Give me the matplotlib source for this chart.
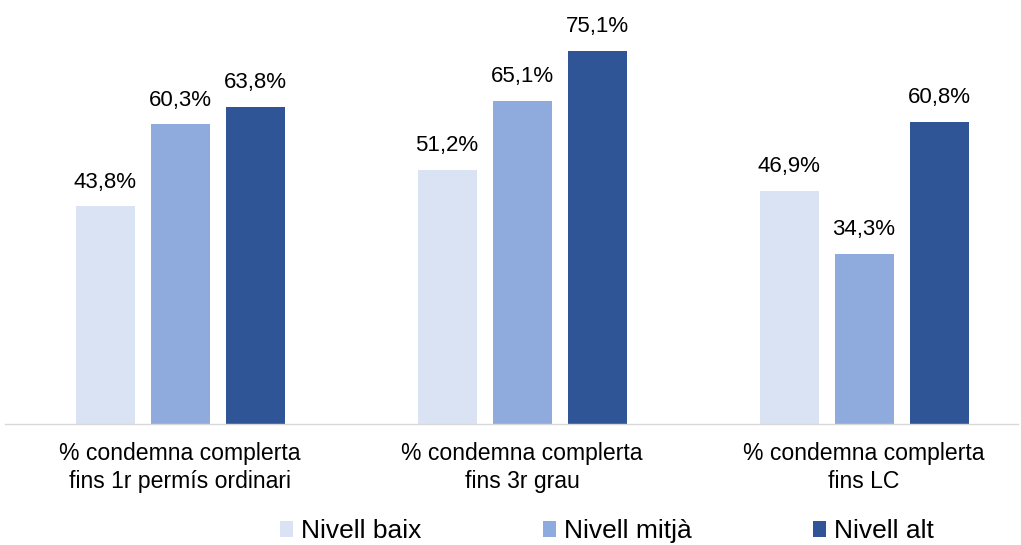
import matplotlib
matplotlib.use("Agg")
import matplotlib.pyplot as plt
import numpy as np
from matplotlib.patches import Patch

plt.rcParams['font.family'] = ['Liberation Sans', 'DejaVu Sans']

categories = ["% condemna complerta\nfins 1r permís ordinari",
              "% condemna complerta\nfins 3r grau",
              "% condemna complerta\nfins LC"]
series_names = ["Nivell baix", "Nivell mitjà", "Nivell alt"]
baix = [43.8, 51.2, 46.9]
mitja = [60.3, 65.1, 34.3]
alt = [63.8, 75.1, 60.8]
colors = ["#DAE3F3", "#8FAADC", "#2F5597"]

W, H = 1021, 545
fig = plt.figure(figsize=(W / 100, H / 100), dpi=100)
ax = fig.add_axes([5 / W, (H - 424) / H, (1018 - 5) / W, 424 / H])

x = np.arange(len(categories))
step = 75 / 342
width = 59 / 342
for i, (vals, col) in enumerate(zip([baix, mitja, alt], colors)):
    pos = x + (i - 1) * step
    bars = ax.bar(pos, vals, width=width, color=col, label=series_names[i])
    for xb, v in zip(pos, vals):
        ax.annotate(f"{v:.1f}%".replace(".", ","), (xb, v), xytext=(0, 10),
                    textcoords="offset points", ha="center", va="bottom",
                    fontsize=16, color="#000000")

ax.set_xlim(-175 / 342, 838 / 342)
ax.set_ylim(0, 424 / 4.967)
for s in ["top", "left", "right"]:
    ax.spines[s].set_visible(False)
ax.spines["bottom"].set_color("#D9D9D9")
ax.spines["bottom"].set_linewidth(1.0)
ax.set_yticks([])
ax.set_xticks(x)
ax.set_xticklabels(categories, fontsize=16.6, linespacing=1.28)
ax.tick_params(axis="x", length=0, pad=13)

handles = [Patch(facecolor=c, edgecolor="none") for c in colors]
fig.legend(handles, series_names, loc="center", bbox_to_anchor=(607 / W, (H - 531) / H),
           ncol=3, frameon=False, fontsize=19, handlelength=0.5, handleheight=0.55,
           handletextpad=0.3, columnspacing=4.6, borderaxespad=0)

fig.savefig("out.png", dpi=100)
